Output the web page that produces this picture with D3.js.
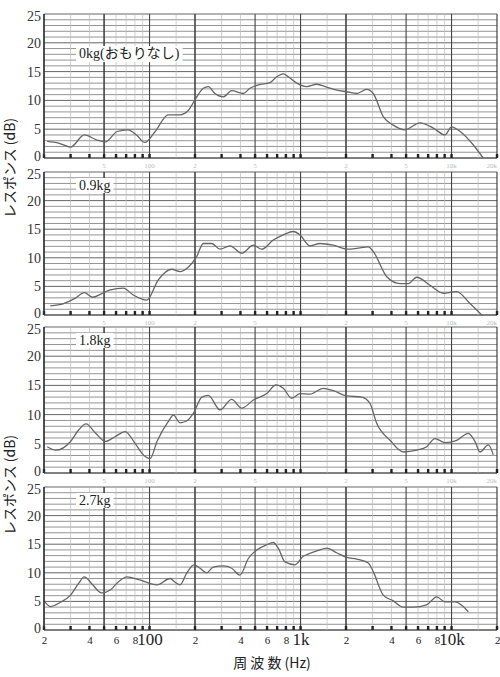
<!DOCTYPE html>
<html><head><meta charset="utf-8">
<script src="https://cdn.jsdelivr.net/npm/d3@7/dist/d3.min.js"></script>
<style>
html,body{margin:0;padding:0;background:#fff;}
svg{display:block;}
</style></head>
<body>
<svg id="chart" width="500" height="677"></svg>
<script>
// ---- data ----
const panelLabels = ["0kg(おもりなし)", "0.9kg", "1.8kg", "2.7kg"];
const yTicks = [0, 5, 10, 15, 20, 25];
const xTickValues = [20, 40, 60, 80, 100, 200, 400, 600, 800, 1000, 2000, 4000, 6000, 8000, 10000, 20000];
const xTickLabels = ["2", "4", "6", "8", "100", "2", "4", "6", "8", "1k", "2", "4", "6", "8", "10k", "2"];

const freq0kg = [21, 25, 30, 37, 45, 51, 61, 72, 82, 93, 109, 133, 159, 181, 203, 227, 245, 271, 308, 350, 418, 462, 525, 628, 695, 769, 830, 944, 1100, 1280, 1490, 1735, 2020, 2355, 2740, 3030, 3530, 4110, 4920, 6180, 7570, 9050, 10000, 11400, 13900, 16200];
const db0kg   = [2.9, 2.6, 1.9, 4.0, 3.1, 2.8, 4.6, 4.9, 4.0, 2.7, 4.6, 7.5, 7.5, 8.3, 10.4, 12.1, 12.4, 11.2, 10.6, 11.7, 11.2, 12.1, 12.7, 13.1, 14.1, 14.6, 14.1, 13.0, 12.4, 12.8, 12.3, 11.8, 11.5, 11.2, 11.9, 11.2, 7.2, 5.7, 4.9, 6.1, 5.2, 4.0, 5.4, 4.6, 2.3, 0];

const freq09kg = [22, 27, 32, 37, 42, 48, 55, 67, 78, 96, 114, 140, 159, 181, 205, 227, 258, 293, 341, 408, 487, 553, 660, 769, 895, 992, 1155, 1346, 1648, 2072, 2412, 2810, 3030, 3720, 4560, 5170, 5880, 7200, 8820, 10820, 13250, 15840];
const db09kg   = [1.6, 2.0, 2.9, 3.9, 3.1, 3.7, 4.4, 4.7, 3.5, 2.6, 6.1, 8.0, 7.6, 8.4, 10.2, 12.5, 12.5, 11.5, 12.1, 10.8, 12.2, 11.5, 13.1, 14.0, 14.6, 14.0, 12.1, 12.5, 12.2, 11.5, 11.7, 11.9, 11.1, 6.7, 5.5, 5.5, 6.6, 5.2, 3.8, 4.1, 2.0, 0];

const freq18kg = [21, 24, 30, 34, 38, 44, 51, 59, 69, 80, 91, 101, 112, 133, 144, 159, 176, 195, 222, 245, 293, 350, 408, 487, 597, 688, 769, 874, 992, 1155, 1414, 1648, 2020, 2542, 2884, 3194, 3912, 4792, 5880, 6844, 7770, 9050, 10820, 12910, 14300, 15430, 17520, 18900];
const db18kg   = [4.5, 3.9, 5.4, 7.4, 8.4, 6.8, 5.4, 6.2, 7.1, 5.1, 3.1, 2.5, 5.4, 8.8, 9.9, 8.6, 8.9, 10.2, 13.0, 13.3, 10.8, 12.6, 11.1, 12.5, 13.6, 15.1, 14.5, 12.8, 13.6, 13.5, 14.5, 14.1, 13.2, 13.0, 11.9, 8.5, 5.6, 3.6, 3.9, 4.5, 5.9, 5.2, 5.6, 6.8, 5.4, 3.6, 4.8, 3.1];

const freq27kg = [20.3, 22, 25.5, 30, 34, 37, 42, 48, 55, 62, 71, 87, 112, 137, 147, 159, 176, 197, 216, 239, 264, 308, 350, 397, 451, 513, 597, 660, 712, 789, 919, 1043, 1155, 1311, 1490, 1735, 2020, 2355, 2810, 3030, 3530, 4110, 4790, 5580, 6840, 7980, 9050, 10540, 12910];
const db27kg   = [4.9, 4.1, 4.8, 6.1, 8.2, 9.3, 7.9, 6.5, 7.0, 8.4, 9.3, 8.7, 7.9, 9.0, 8.4, 7.9, 9.9, 11.4, 10.8, 10.0, 11.0, 11.2, 10.8, 9.6, 12.5, 14.0, 14.9, 15.3, 14.3, 11.9, 11.4, 12.9, 13.4, 13.9, 14.3, 13.5, 12.7, 12.4, 11.7, 10.2, 6.1, 5.1, 4.0, 4.0, 4.4, 5.8, 4.9, 4.9, 3.2];

const seriesFreqs = [freq0kg, freq09kg, freq18kg, freq27kg];
const seriesDb = [db0kg, db09kg, db18kg, db27kg];

// ---- layout ----
const panelTop = [14, 172, 327, 487];
const panelBottom = [158, 315, 473, 630];
const xLeft = 44, xRight = 497;
const serif = "'Liberation Serif','DejaVu Serif','Noto Sans CJK JP',serif";
const cjk = "'Noto Sans CJK JP',sans-serif";

const svg = d3.select("#chart");
const x = d3.scaleLog().domain([20, 20000]).range([xLeft, xRight]);

// gridline frequencies
const minorF = [], boldF = [];
[10, 100, 1000, 10000].forEach(dec => {
  for (let m = 1; m <= 9; m++) {
    const f = dec * m;
    if (f < 20 || f > 20000) continue;
    if (m === 1 || m === 2 || m === 5) boldF.push(f); else minorF.push(f);
  }
  const h = dec * 1.5;
  if (h >= 20 && h <= 20000) minorF.push(h);
});
const tickMarkF = [];
[10, 100, 1000, 10000].forEach(dec => {
  for (let m = 1; m <= 9; m++) { const f = dec * m; if (f >= 20 && f <= 20000) tickMarkF.push(f); }
});

const line = d3.line().curve(d3.curveMonotoneX);

for (let p = 0; p < 4; p++) {
  const y = d3.scaleLinear().domain([0, 25]).range([panelBottom[p], panelTop[p]]);
  const g = svg.append("g");

  // horizontal grid every 1 dB
  g.selectAll("line.h").data(d3.range(0, 26)).join("line")
    .attr("x1", xLeft).attr("x2", xRight)
    .attr("y1", d => y(d)).attr("y2", d => y(d))
    .attr("stroke", d => d % 5 === 0 ? "#555" : "#888")
    .attr("stroke-width", d => d === 0 ? 1.6 : 0.9);

  // vertical minor grid
  g.selectAll("line.vm").data(minorF).join("line")
    .attr("x1", d => x(d)).attr("x2", d => x(d))
    .attr("y1", y(25)).attr("y2", y(0))
    .attr("stroke", "#bbb").attr("stroke-width", 0.7);
  // vertical bold grid
  g.selectAll("line.vb").data(boldF).join("line")
    .attr("x1", d => x(d)).attr("x2", d => x(d))
    .attr("y1", y(25)).attr("y2", y(0))
    .attr("stroke", d => (d === 20 || d === 20000) ? "#333" : "#444")
    .attr("stroke-width", d => (d === 50 || d === 200 || d === 2000) ? 1.6 : 1.1);

  // small tick marks on 0 line
  g.selectAll("rect.tm").data(tickMarkF).join("rect")
    .attr("x", d => x(d) - 1.2).attr("y", y(0) - 4)
    .attr("width", 2.4).attr("height", 4).attr("fill", "#222");

  // faint scale labels under panel (paper printing)
  if (p < 3) {
    const faint = [[50, "5"], [100, "100"], [200, "2"], [500, "5"], [2000, "2"], [5000, "5"], [10000, "10k"], [20000, "20k"]];
    g.selectAll("text.faint").data(faint).join("text")
      .attr("x", d => x(d[0])).attr("y", y(0) + 10)
      .attr("text-anchor", d => d[0] === 20000 ? "end" : "middle").attr("font-size", 7)
      .attr("font-family", serif).attr("fill", "#bbb").text(d => d[1]);
  }

  // y axis labels
  const yAxis = d3.axisLeft(y).tickValues(yTicks).tickSize(0).tickPadding(3).tickFormat(d3.format("d"));
  const ya = g.append("g").attr("transform", `translate(${xLeft},0)`).call(yAxis);
  ya.select(".domain").remove();
  ya.selectAll("text").attr("font-family", serif).attr("font-size", 14).attr("fill", "#333")
    .attr("dy", d => d === 0 ? "0.18em" : d === 25 ? "0.45em" : "0.32em");

  // left frame
  g.append("line").attr("x1", xLeft).attr("x2", xLeft).attr("y1", y(25)).attr("y2", y(0))
    .attr("stroke", "#333").attr("stroke-width", 1.4);

  // response curve
  const pts = seriesFreqs[p].map((f, i) => [x(f), y(seriesDb[p][i])]);
  g.append("path").attr("d", line(pts)).attr("fill", "none")
    .attr("stroke", "#666").attr("stroke-width", 1.3);

  // panel label with white background
  const bg = g.append("rect").attr("fill", "#fff");
  const lbl = g.append("text").attr("x", 79).attr("y", y(25) + (p === 0 ? 44 : 18))
    .attr("font-family", serif).attr("font-size", 14).attr("fill", "#222").text(panelLabels[p]);
  const bb = lbl.node().getBBox();
  bg.attr("x", bb.x - 3).attr("y", bb.y).attr("width", bb.width + 6).attr("height", bb.height);
}

// bottom x-axis labels
const xAxis = d3.axisBottom(x).tickValues(xTickValues).tickSize(0).tickPadding(6)
  .tickFormat((d, i) => xTickLabels[i]);
const xa = svg.append("g").attr("transform", `translate(0,${panelBottom[3]})`).call(xAxis);
xa.select(".domain").remove();
xa.selectAll("text").attr("font-family", serif).attr("fill", "#222")
  .attr("font-size", (d, i) => xTickLabels[i].length > 1 ? 17 : 11)
  .attr("dy", (d, i) => xTickLabels[i].length > 1 ? "0.55em" : "0.71em");
xa.selectAll("text").filter((d, i) => i === xTickLabels.length - 1).attr("text-anchor", "end").attr("dx", 3);

// x title
svg.append("text").attr("x", 272).attr("y", 668).attr("text-anchor", "middle")
  .attr("font-family", cjk).attr("font-size", 14).attr("fill", "#222")
  .text("周 波 数 (Hz)");

// y titles
[168, 485].forEach(cy => {
  svg.append("text").attr("transform", `translate(15,${cy}) rotate(-90)`)
    .attr("text-anchor", "middle").attr("font-family", cjk).attr("font-size", 14)
    .attr("fill", "#222").text("レスポンス (dB)");
});
</script>
</body></html>
